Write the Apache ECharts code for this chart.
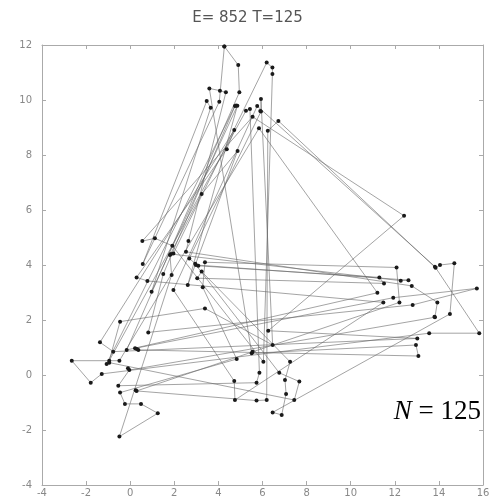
<!DOCTYPE html>
<html><head><meta charset="utf-8">
<script src="https://cdn.jsdelivr.net/npm/echarts@6/dist/echarts.min.js"></script>
<style>html,body{margin:0;padding:0;background:#fff}#c{width:495px;height:500px}</style>
</head><body><div id="c"></div>
<script>
const titleText = "E= 852 T=125";
const annotation = "N = 125";
const xTicks = [-4,-2,0,2,4,6,8,10,12,14,16];
const yTicks = [-4,-2,0,2,4,6,8,10,12];
// tour order (city coordinates)
const tourX = [4.27,4.90,4.95,-0.16,11.21,5.84,-0.49,-2.65,-1.79,-1.29,13.56,15.83,13.82,5.76,1.96,4.72,4.75,11.48,0.78,0.29,4.38,4.72,-1.37,-0.77,13.02,6.26,12.42,5.55,0.55,1.12,1.91,6.04,6.45,6.45,6.19,1.96,1.85,12.27,12.62,2.98,6.76,7.67,7.44,-0.95,-1.07,4.75,4.80,1.50,0.82,12.81,15.72,11.93,0.22,0.30,0.37,13.07,12.96,5.51,5.55,3.59,4.07,4.34,2.64,2.53,12.77,13.93,13.82,13.80,-0.04,-0.10,-0.54,5.73,5.86,5.43,5.25,-0.95,-0.46,3.39,6.46,5.93,5.93,5.90,2.68,2.95,3.09,11.30,11.51,3.04,3.24,7.25,7.02,7.07,6.87,6.46,14.50,14.70,14.05,13.85,6.72,6.24,6.19,5.73,0.29,0.25,12.21,12.08,3.39,3.29,4.83,-0.46,-0.24,0.49,1.25,-0.49,1.88,1.80,3.24,4.87,2.61,4.86,0.97,3.65,3.47,0.57,4.04];
const tourY = [11.95,11.27,10.28,0.91,2.99,8.97,0.52,0.52,-0.28,0.04,1.52,1.52,3.94,9.78,3.09,-0.22,-0.91,2.64,3.42,3.55,8.21,8.91,1.19,0.85,1.33,1.61,5.79,9.39,4.87,4.97,4.70,0.48,10.95,11.18,11.36,4.42,4.40,3.43,3.45,4.00,0.08,-0.24,-0.91,0.45,0.40,9.78,9.80,3.67,1.55,2.55,3.15,2.81,0.97,0.95,0.91,0.69,1.09,0.79,0.85,10.42,10.34,10.28,4.87,4.48,3.24,2.64,2.10,2.12,0.18,0.25,-0.39,-0.28,0.08,9.67,9.61,0.52,1.94,2.42,1.09,10.04,9.58,9.60,4.24,4.05,3.97,3.55,3.33,3.52,3.76,0.48,-0.18,-0.69,-1.45,-1.36,2.22,4.06,4.00,3.90,9.24,8.88,-0.91,-0.93,-0.58,-0.55,2.64,3.91,4.10,3.19,0.58,-0.64,-1.05,-1.05,-1.39,-2.24,3.64,4.36,6.58,8.15,3.27,9.79,3.03,9.72,9.96,4.04,9.94];

const pts = tourX.map((x,i)=>[x,tourY[i]]);
pts.push([tourX[0],tourY[0]]);

const chart = echarts.init(document.getElementById('c'), null, {renderer:'canvas'});
const labelStyle = {color:'#888', fontSize:10, fontFamily:'DejaVu Sans'};
const tickStyle = {show:true, inside:true, length:4, lineStyle:{color:'#aaa'}};
const lineStyle = {show:true, onZero:false, lineStyle:{color:'#aaa', width:1}};
chart.setOption({
  animation:false,
  backgroundColor:'#fff',
  title:{text:titleText, left:'center', top:6, textStyle:{fontSize:15, fontWeight:'normal', color:'#555', fontFamily:'DejaVu Sans'}},
  grid:{left:42, top:45, width:441, height:440, show:false},
  xAxis:[
    {type:'value', min:-4, max:16, interval:2, position:'bottom', splitLine:{show:false}, axisLine:lineStyle, axisTick:tickStyle,
     axisLabel:Object.assign({margin:3, showMinLabel:true, showMaxLabel:true}, labelStyle)},
    {type:'value', min:-4, max:16, interval:2, position:'top', splitLine:{show:false}, axisLine:lineStyle, axisTick:tickStyle, axisLabel:{show:false}}
  ],
  yAxis:[
    {type:'value', min:-4, max:12, interval:2, position:'left', splitLine:{show:false}, axisLine:lineStyle, axisTick:tickStyle,
     axisLabel:Object.assign({margin:10}, labelStyle)},
    {type:'value', min:-4, max:12, interval:2, position:'right', splitLine:{show:false}, axisLine:lineStyle, axisTick:tickStyle, axisLabel:{show:false}}
  ],
  series:[{
    type:'line', data:pts, xAxisIndex:0, yAxisIndex:0,
    symbol:'circle', symbolSize:4, showSymbol:true,
    itemStyle:{color:'#1a1a1a'},
    lineStyle:{color:'#666', width:0.7, opacity:0.85},
    emphasis:{disabled:true}
  }],
  graphic:[{
    type:'text', right:14, top:398,
    style:{
      text:'{i|N} = 125',
      rich:{i:{fontStyle:'italic', fontFamily:'Liberation Serif', fontSize:27, fill:'#000'}},
      font:'27px "Liberation Serif"', fill:'#000'
    }
  }]
});
</script></body></html>
